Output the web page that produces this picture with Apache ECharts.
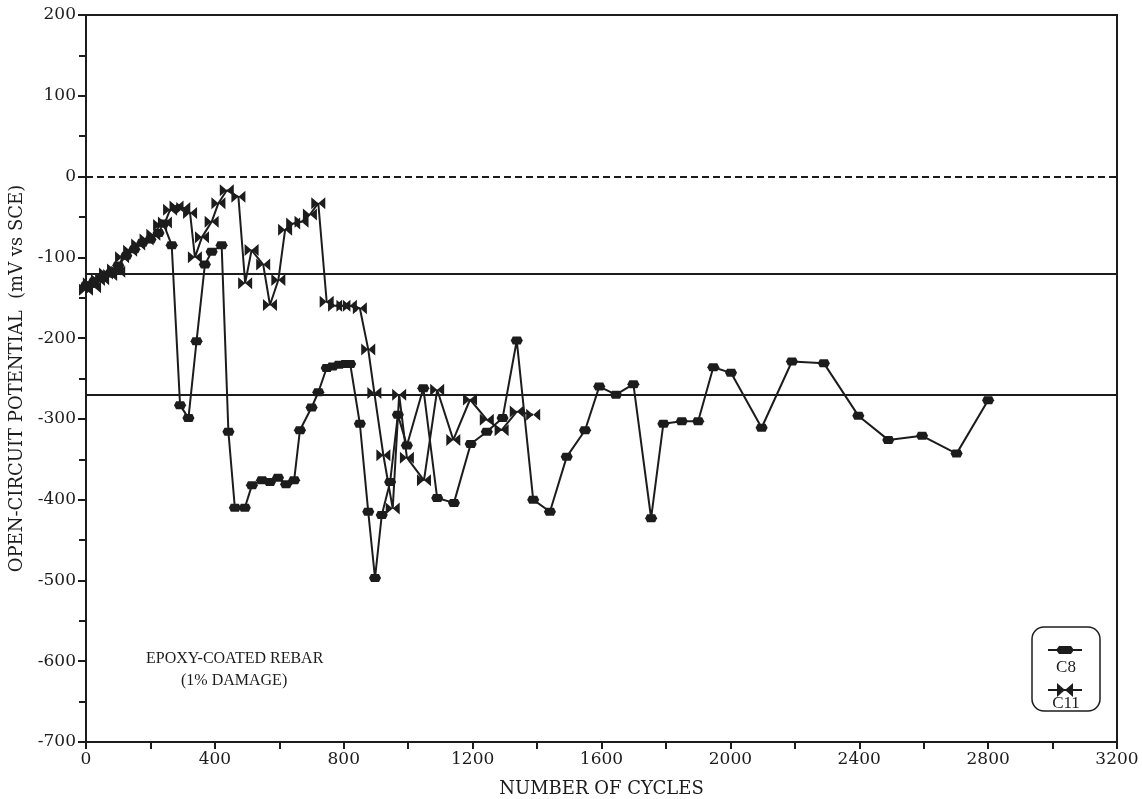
<!DOCTYPE html>
<html>
<head>
<meta charset="utf-8">
<script src="https://cdn.jsdelivr.net/npm/echarts@6/dist/echarts.min.js"></script>
<style>
html,body{margin:0;padding:0;background:#fff;}
#chart{width:1142px;height:799px;}
</style>
</head>
<body>
<div id="chart"></div>
<script>
// ---- Data ----
const c8Cycles = [0,25,50,75,100,125,150,175,200,225,240,266,292,318,343,369,390,421,442,462,493,515,546,571,596,621,646,664,700,721,747,765,785,805,820,850,876,897,918,944,968,996,1047,1090,1142,1194,1244,1293,1337,1388,1440,1492,1549,1593,1645,1699,1754,1792,1849,1900,1947,2002,2097,2191,2290,2397,2490,2595,2702,2800];
const c8Potential = [-135,-130,-125,-120,-110,-98,-90,-82,-78,-70,-58,-85,-283,-299,-204,-109,-93,-85,-316,-410,-410,-382,-376,-378,-373,-381,-376,-314,-286,-267,-237,-235,-233,-232,-232,-306,-415,-497,-419,-378,-295,-333,-262,-398,-404,-331,-316,-299,-203,-400,-415,-347,-314,-260,-270,-257,-423,-306,-303,-303,-236,-243,-311,-229,-231,-296,-326,-321,-343,-277];

const c11Cycles = [0,12,25,37,50,62,75,87,100,112,137,162,188,209,230,245,261,281,302,323,338,360,390,411,437,473,494,514,550,571,597,618,643,669,695,721,747,773,799,819,850,876,895,923,952,972,996,1049,1090,1140,1192,1244,1290,1337,1388];
const c11Potential = [-140,-132,-137,-128,-127,-120,-122,-115,-118,-100,-92,-84,-78,-72,-60,-57,-41,-37,-39,-45,-100,-75,-56,-33,-17,-25,-132,-91,-109,-159,-128,-66,-58,-56,-47,-33,-155,-160,-160,-160,-163,-214,-268,-345,-411,-270,-348,-376,-264,-326,-276,-301,-314,-291,-295];

const refDashed = [0];
const refSolid = [-120, -270];

const xMin = 0, xMax = 3200, xStep = 400;
const yMin = -700, yMax = 200, yStep = 100;

// ---- Build ----
const zip = (a, b) => a.map((v, i) => [v, b[i]]);
const INK = '#1c1c1c';
const SERIF = 'Liberation Serif';
const WIDE = 'DejaVu Serif';
const hexPath = 'path://M2,0 L10,0 L12,4 L10,8 L2,8 L0,4 Z';
const bowPath = 'path://M0,0 L6,5 L0,10 Z M12,0 L6,5 L12,10 Z';

const chart = echarts.init(document.getElementById('chart'), null, {renderer: 'canvas'});

const option = {
  backgroundColor: '#fff',
  animation: false,
  textStyle: {fontFamily: SERIF, color: INK},
  grid: {left: 86, right: 25, top: 15, bottom: 57, containLabel: false, outerBoundsMode: 'none',
         show: true, borderColor: INK, borderWidth: 2, backgroundColor: 'transparent'},
  xAxis: {
    type: 'value', min: xMin, max: xMax, interval: xStep,
    name: 'NUMBER OF CYCLES', nameLocation: 'middle', nameGap: 38,
    nameTextStyle: {fontFamily: WIDE, fontSize: 18, color: INK},
    axisLine: {show: true, onZero: false, lineStyle: {color: INK, width: 2}},
    axisTick: {show: true, length: 7, lineStyle: {color: INK, width: 2}},
    minorTick: {show: true, splitNumber: 2, length: 7, lineStyle: {color: INK, width: 2}},
    axisLabel: {fontFamily: WIDE, fontSize: 17, color: INK, margin: 9, formatter: v => String(v)},
    splitLine: {show: false}
  },
  yAxis: {
    type: 'value', min: yMin, max: yMax, interval: yStep,
    name: 'OPEN-CIRCUIT POTENTIAL  (mV vs SCE)', nameLocation: 'middle', nameGap: 60,
    nameTextStyle: {fontFamily: WIDE, fontSize: 18, color: INK},
    axisLine: {show: true, onZero: false, lineStyle: {color: INK, width: 2}},
    axisTick: {show: true, length: 8, lineStyle: {color: INK, width: 2}},
    minorTick: {show: true, splitNumber: 2, length: 7, lineStyle: {color: INK, width: 2}},
    axisLabel: {fontFamily: WIDE, fontSize: 17, color: INK, margin: 10, formatter: v => String(v)},
    splitLine: {show: false}
  },
  series: [
    {
      name: 'C8', type: 'line', data: zip(c8Cycles, c8Potential),
      symbol: hexPath, symbolSize: [12, 8], showAllSymbol: true,
      lineStyle: {color: INK, width: 2}, itemStyle: {color: INK},
      z: 3,
      markLine: {
        silent: true, symbol: 'none', label: {show: false},
        data: refDashed.map(v => ({yAxis: v, lineStyle: {type: [7, 4], color: INK, width: 2}}))
          .concat(refSolid.map(v => ({yAxis: v, lineStyle: {type: 'solid', color: INK, width: 2}})))
      }
    },
    {
      name: 'C11', type: 'line', data: zip(c11Cycles, c11Potential),
      symbol: bowPath, symbolSize: [14, 12], showAllSymbol: true,
      lineStyle: {color: INK, width: 2}, itemStyle: {color: INK},
      z: 4
    }
  ],
  graphic: [
    {type: 'text', left: 146, top: 651, style: {text: 'EPOXY-COATED REBAR', font: '16px "Liberation Serif"', fill: INK}},
    {type: 'text', left: 181, top: 673, style: {text: '(1% DAMAGE)', font: '16px "Liberation Serif"', fill: INK}},
    {type: 'rect', shape: {x: 1032, y: 627, width: 68, height: 84, r: 12}, style: {fill: '#fff', stroke: INK, lineWidth: 1.5}, z: 10},
    {type: 'line', shape: {x1: 1048, y1: 650, x2: 1082, y2: 650}, style: {stroke: INK, lineWidth: 2}, z: 11},
    {type: 'polygon', shape: {points: [[1059,646],[1071,646],[1074,650],[1071,654],[1059,654],[1056,650]]}, style: {fill: INK}, z: 12},
    {type: 'text', x: 1066, y: 668, style: {text: 'C8', font: '17px "Liberation Serif"', fill: INK, align: 'center', verticalAlign: 'middle'}, z: 12},
    {type: 'line', shape: {x1: 1048, y1: 690, x2: 1082, y2: 690}, style: {stroke: INK, lineWidth: 2}, z: 11},
    {type: 'polygon', shape: {points: [[1057,683],[1065,690],[1057,697]]}, style: {fill: INK}, z: 12},
    {type: 'polygon', shape: {points: [[1073,683],[1065,690],[1073,697]]}, style: {fill: INK}, z: 12},
    {type: 'text', x: 1066, y: 704, style: {text: 'C11', font: '17px "Liberation Serif"', fill: INK, align: 'center', verticalAlign: 'middle'}, z: 12}
  ]
};
chart.setOption(option);
</script>
</body>
</html>
